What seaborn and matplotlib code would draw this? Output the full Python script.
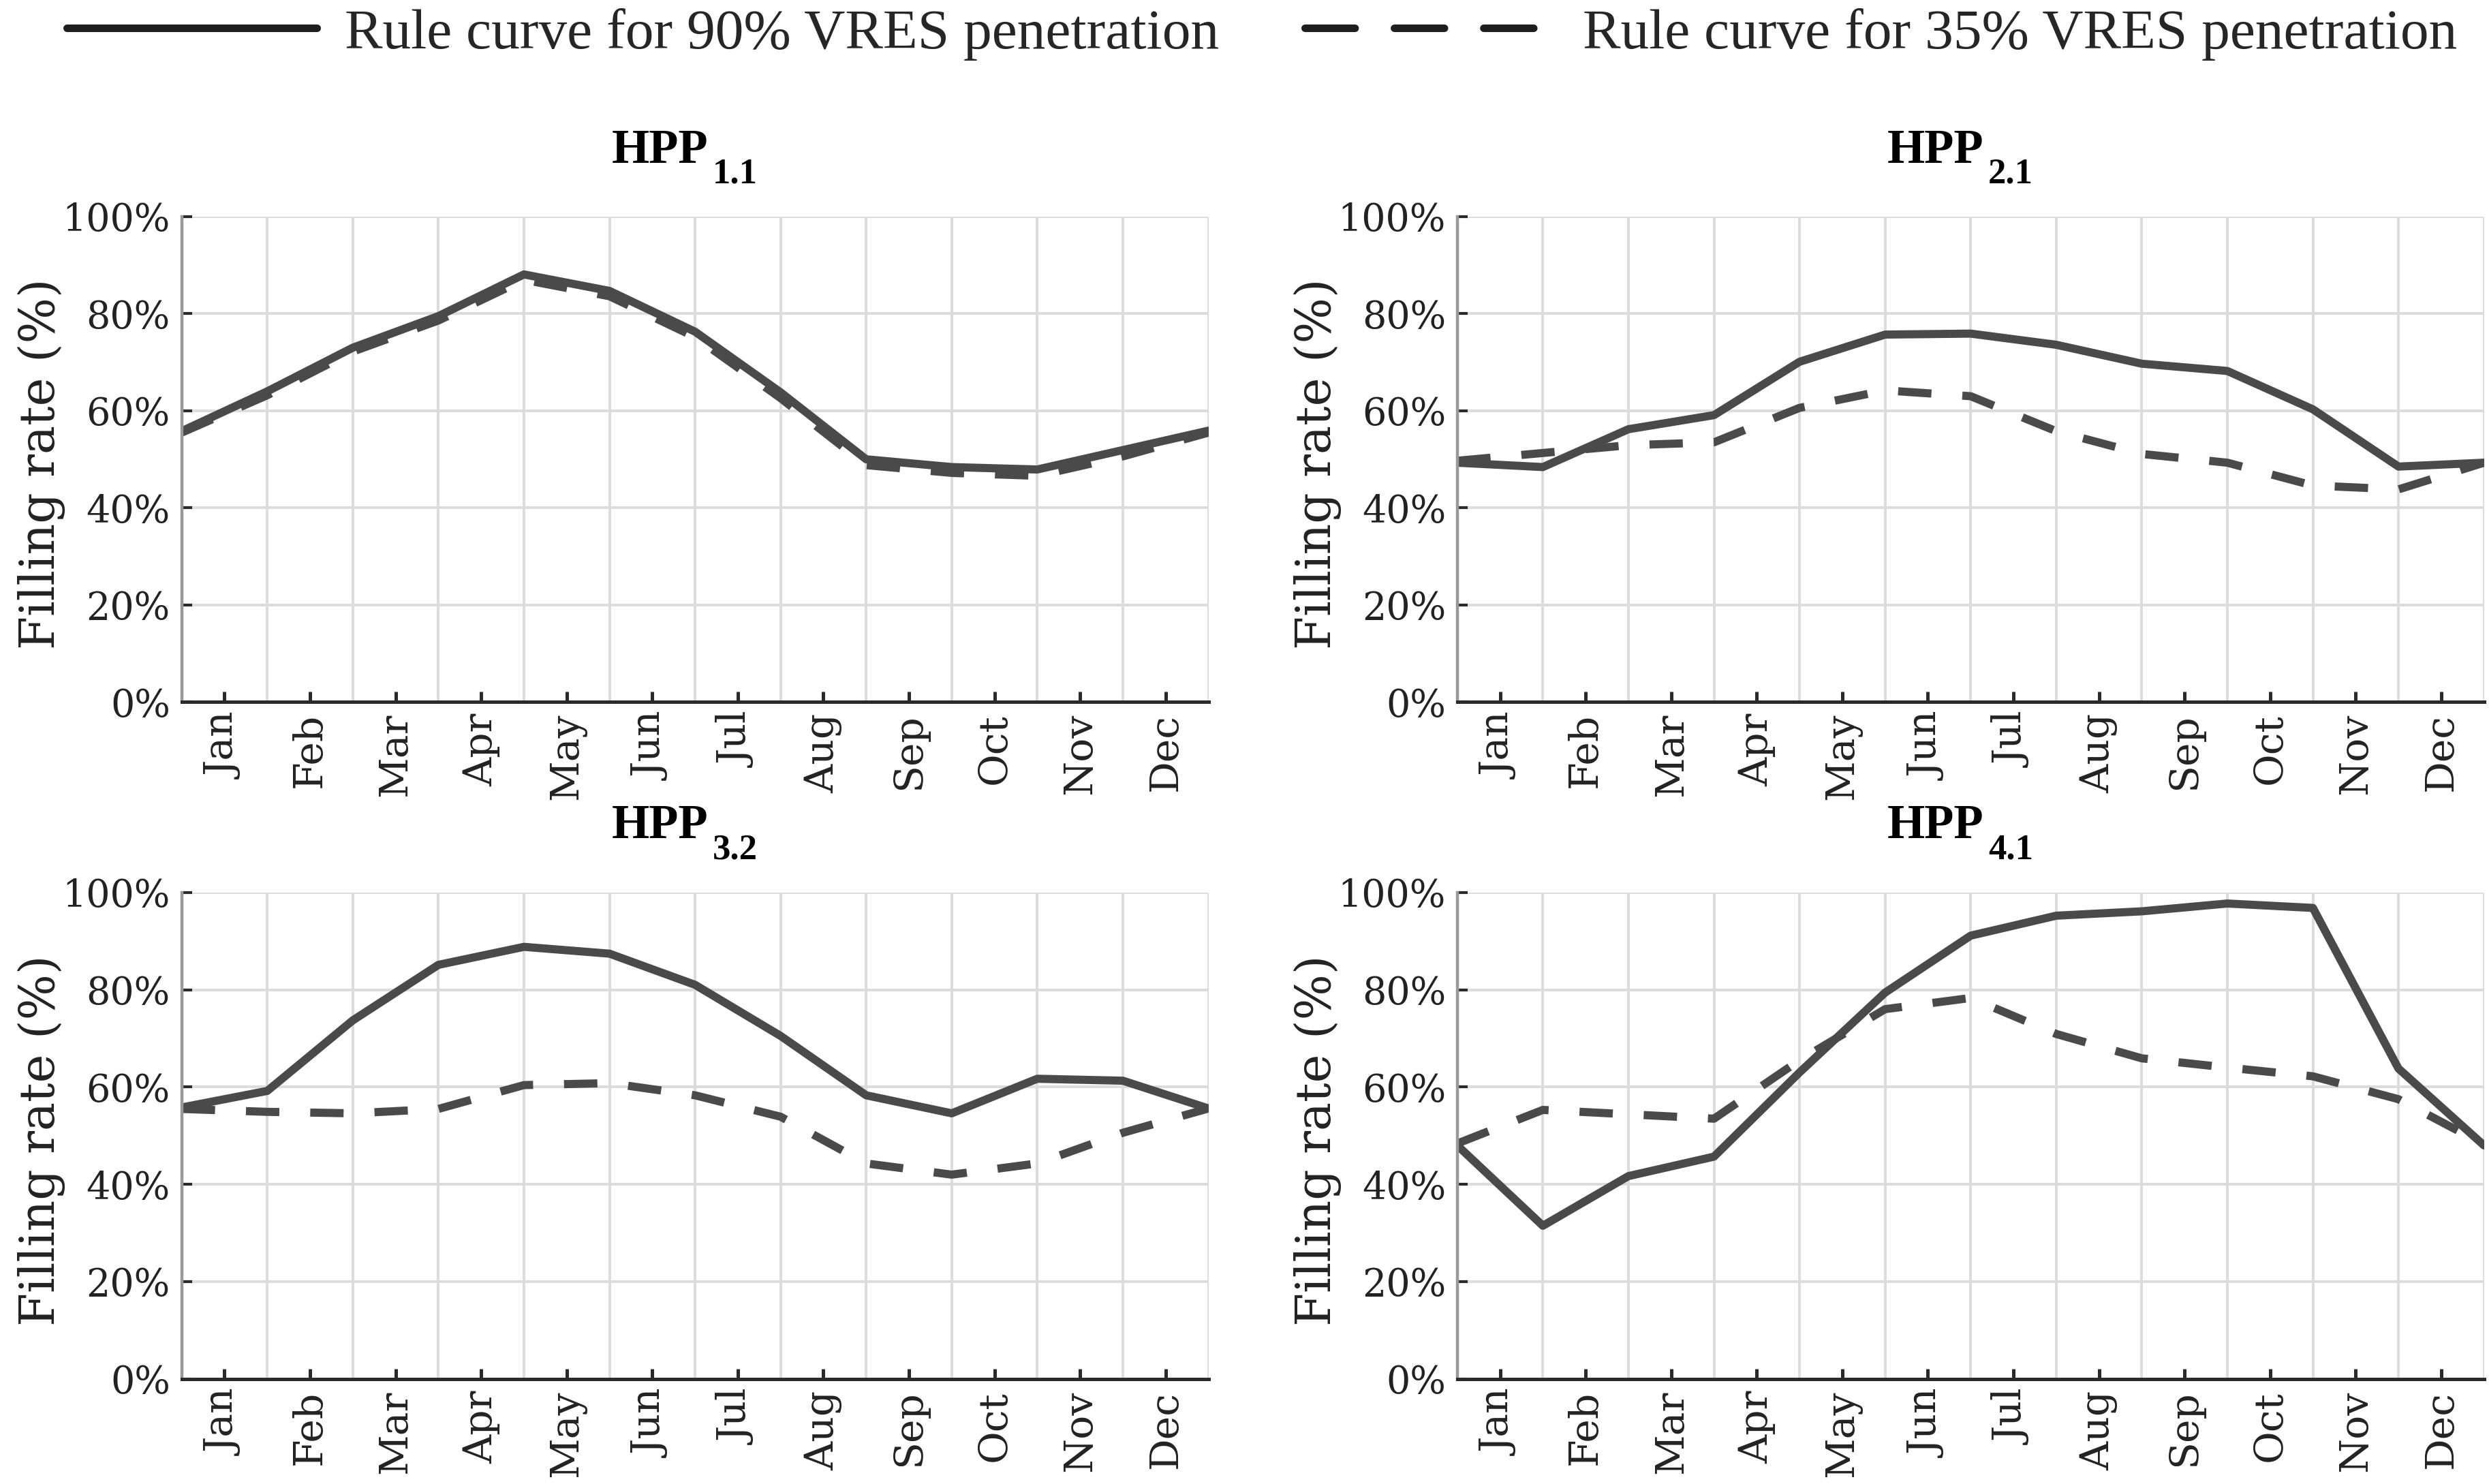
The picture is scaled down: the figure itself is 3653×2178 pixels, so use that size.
import numpy as np
import pandas as pd
import seaborn as sns
import matplotlib.pyplot as plt
from matplotlib.lines import Line2D
from matplotlib.ticker import PercentFormatter

# Month labels and the 13 month boundaries where the rule curve is defined
months = ['Jan', 'Feb', 'Mar', 'Apr', 'May', 'Jun', 'Jul', 'Aug', 'Sep', 'Oct', 'Nov', 'Dec']
boundaries = list(range(13))

# Filling rates (%), one value per month boundary
hpp11_90 = [55.8, 64.0, 73.0, 79.5, 88.1, 84.7, 76.3, 63.8, 50.0, 48.4, 47.9, 51.9, 55.9]
hpp11_35 = [55.5, 63.2, 72.2, 78.6, 87.0, 83.6, 75.2, 62.6, 48.8, 47.2, 46.6, 50.6, 55.5]

hpp21_90 = [49.3, 48.4, 56.2, 59.1, 70.1, 75.7, 75.9, 73.6, 69.7, 68.2, 60.3, 48.5, 49.3]
hpp21_35 = [49.7, 51.3, 52.9, 53.5, 60.6, 64.2, 63.0, 55.8, 51.1, 49.3, 44.6, 43.8, 49.3]

hpp32_90 = [55.8, 59.2, 73.7, 85.1, 88.8, 87.4, 81.0, 70.5, 58.3, 54.6, 61.7, 61.3, 55.6]
hpp32_35 = [55.5, 54.9, 54.6, 55.5, 60.4, 60.8, 58.3, 53.9, 44.3, 42.0, 44.3, 50.6, 55.6]

hpp41_90 = [48.0, 31.5, 41.7, 45.7, 63.0, 79.4, 91.1, 95.2, 96.1, 97.7, 96.8, 63.8, 48.0]
hpp41_35 = [48.4, 55.3, 54.4, 53.5, 65.5, 76.0, 78.3, 70.9, 65.9, 64.0, 62.2, 57.5, 48.2]

label90 = 'Rule curve for 90% VRES penetration'
label35 = 'Rule curve for 35% VRES penetration'

# panel name and subscript
panels = [
    ('HPP', '1.1', hpp11_90, hpp11_35),
    ('HPP', '2.1', hpp21_90, hpp21_35),
    ('HPP', '3.2', hpp32_90, hpp32_35),
    ('HPP', '4.1', hpp41_90, hpp41_35),
]

line_color = '#4a4a4a'
grid_color = '#dcdcdc'
dash35 = (4.1, 3.8)

sns.set_theme(style='white')
plt.rcParams['font.family'] = ['DejaVu Serif']

fig = plt.figure(figsize=(36.53, 21.78), dpi=100)
positions = [
    [0.0730, 0.527, 0.4125, 0.327],
    [0.5855, 0.527, 0.4125, 0.327],
    [0.0730, 0.0707, 0.4125, 0.328],
    [0.5855, 0.0707, 0.4125, 0.328],
]

for pos, (name, sub, v90, v35) in zip(positions, panels):
    ax = fig.add_axes(pos)
    df = pd.DataFrame({
        'month': boundaries * 2,
        'rate': v90 + v35,
        'series': [label90] * 13 + [label35] * 13,
    })
    sns.lineplot(data=df, x='month', y='rate', style='series',
                 dashes={label90: '', label35: dash35},
                 color=line_color, linewidth=8.6, ax=ax, legend=False)

    ax.set_xlim(0, 12)
    ax.set_ylim(0, 100)
    ax.set_xticks(np.arange(12) + 0.5)
    ax.set_xticklabels(months, rotation=90, fontsize=42, color='#222222')
    ax.set_xticks(boundaries, minor=True)
    ax.set_yticks(range(0, 101, 20))
    ax.yaxis.set_major_formatter(PercentFormatter(decimals=0))
    ax.tick_params(axis='y', labelsize=40, labelcolor='#222222', direction='in',
                   length=11, width=3, color='#2a2a2a', left=True, pad=12)
    ax.tick_params(axis='x', which='major', direction='in', length=11, width=3.6,
                   color='#2a2a2a', bottom=True, pad=12)
    ax.tick_params(axis='x', which='minor', length=0)

    ax.set_axisbelow(True)
    ax.grid(axis='x', which='minor', color=grid_color, linewidth=2.8)
    ax.grid(axis='y', which='major', color=grid_color, linewidth=2.8)
    ax.grid(axis='x', which='major', visible=False)

    for side in ['top', 'right']:
        ax.spines[side].set_visible(False)
    ax.spines['left'].set_color('#999999')
    ax.spines['left'].set_linewidth(3.2)
    ax.spines['bottom'].set_color('#2a2a2a')
    ax.spines['bottom'].set_linewidth(3.6)

    ax.set_xlabel('')
    ax.set_ylabel('Filling rate (%)', fontsize=51, color='#222222')
    ax.yaxis.set_label_coords(-0.113, 0.49)

    # title with a low subscript, as in the reference
    ax.text(0.513, 1.111, name, transform=ax.transAxes, ha='right', va='baseline',
            fontsize=51, fontweight='bold', family='Liberation Serif', color='black')
    ax.text(0.517, 1.069, sub, transform=ax.transAxes, ha='left', va='baseline',
            fontsize=38, fontweight='bold', family='Liberation Serif', color='black')

handles = [
    Line2D([], [], color='#1e1e1e', linewidth=8, solid_capstyle='round'),
    Line2D([], [], color='#1e1e1e', linewidth=8, dashes=(6.6, 5.2),
           dash_capstyle='round'),
]
fig.legend(handles, [label90, label35], loc='center', bbox_to_anchor=(0.507, 0.977),
           ncol=2, frameon=False, handlelength=4.4, handletextpad=0.5,
           columnspacing=1.5, prop={'family': 'Liberation Serif', 'size': 60})

fig.savefig('out.png', dpi=100)
